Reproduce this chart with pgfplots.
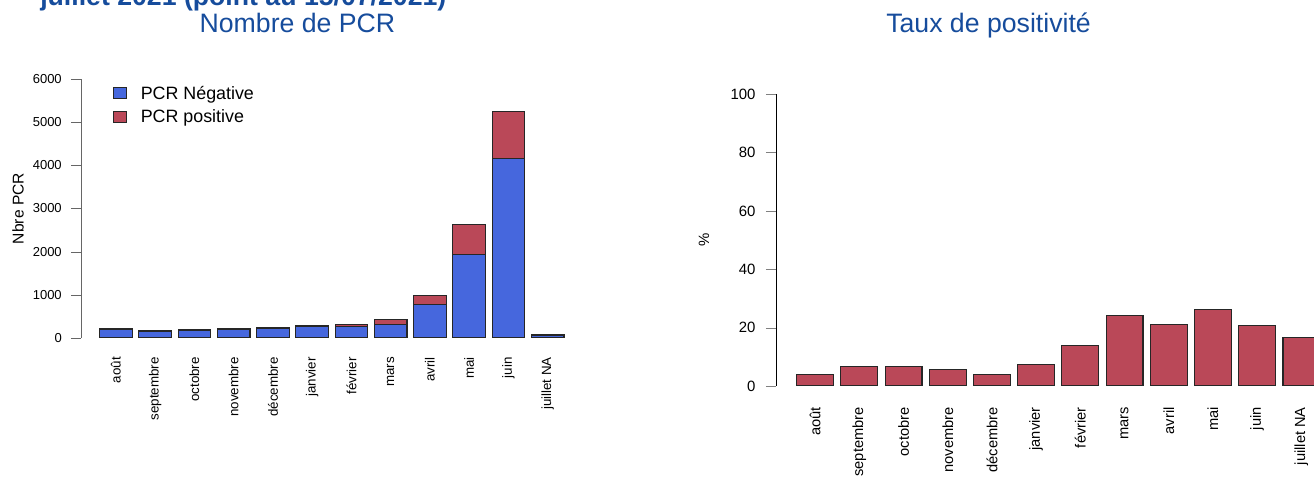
\documentclass[border=0pt]{standalone}
\usepackage{pgfplots}
\pgfplotsset{compat=1.18}
\usepackage{fontspec}
\setmainfont{Liberation Sans}

\definecolor{titleblue}{RGB}{22,76,156}
\definecolor{negblue}{RGB}{70,103,221}
\definecolor{posred}{RGB}{186,72,88}

\pgfplotsset{
  rbars/.style={
    scale only axis,
    anchor=south west,
    xmin=-0.89, xmax=11.89,
    ymin=0,
    axis lines*=left,
    x axis line style={draw=none},
    xtick={0,...,11},
    xticklabels={août,septembre,octobre,novembre,décembre,janvier,février,mars,avril,mai,juin,juillet NA},
    x tick style={draw=none},
    tick align=outside,
    major tick length=7.5pt,
    xticklabel style={rotate=90, anchor=east, inner sep=0pt},
    yticklabel style={anchor=east, inner sep=0pt},
    /pgf/number format/assume math mode=true,
    /pgf/number format/1000 sep={},
    scaled y ticks=false,
    ybar stacked,
    bar width=0.8333,
    legend image code/.code={\draw[#1] (0pt,-4.1pt) rectangle (9.75pt,4.1pt);},
  },
}

\begin{document}
\begin{tikzpicture}
\useasboundingbox (0,0) rectangle (985.5pt,357.75pt);

\node[anchor=base west, inner sep=0pt, text=titleblue, font=\fontsize{20}{24}\selectfont\bfseries]
  at (30pt,353.5pt) {juillet 2021 (point au 15/07/2021)};
\node[anchor=base, inner sep=0pt, text=titleblue, font=\fontsize{20}{24}\selectfont]
  at (223.1pt,333pt) {Nombre de PCR};
\node[anchor=base, inner sep=0pt, text=titleblue, font=\fontsize{20}{24}\selectfont]
  at (741.4pt,333pt) {Taux de positivité};

% Nombre de PCR
\begin{axis}[
  rbars,
  at={(60.75pt,104.25pt)},
  width=376.2pt, height=194.25pt,
  ymax=6000,
  ytick={0,1000,...,6000},
  y axis line style={black!60},
  y tick style={black!60},
  xticklabel shift=6.75pt,
  yticklabel shift=6.75pt,
  xticklabel style={font=\fontsize{10}{12}\selectfont},
  yticklabel style={font=\fontsize{9.75}{12}\selectfont},
  ylabel={Nbre PCR},
  ylabel style={at={([xshift=-47.25pt]axis description cs:0,0.5)}, anchor=center, font=\fontsize{11.7}{14}\selectfont},
  legend style={at={(axis description cs:0.056,0.99)}, anchor=north west, draw=none, fill=none,
    font=\fontsize{13.4}{16}\selectfont, row sep=4.5pt, column sep=9pt,
    nodes={inner sep=1pt}},
  legend cell align=left,
]
\addplot[fill=negblue, draw=black!85, line width=0.8pt] coordinates {
  (0,201) (1,152) (2,174) (3,197) (4,224) (5,259)
  (6,260) (7,318) (8,783) (9,1934) (10,4168) (11,64)
};
\addplot[fill=posred, draw=black!85, line width=0.8pt] coordinates {
  (0,8) (1,11) (2,12) (3,12) (4,9) (5,20)
  (6,42) (7,101) (8,210) (9,686) (10,1088) (11,13)
};
\legend{PCR Négative, PCR positive}
\end{axis}

% Taux de positivité
\begin{axis}[
  rbars,
  at={(581.85pt,68.25pt)},
  width=423.7pt, height=218.8pt,
  ymax=100,
  ytick={0,20,...,100},
  xticklabel shift=8.25pt,
  yticklabel shift=7.5pt,
  xticklabel style={font=\fontsize{11}{13}\selectfont},
  yticklabel style={font=\fontsize{11.2}{13}\selectfont},
  ylabel={\%},
  ylabel style={at={([xshift=-53.8pt]axis description cs:0,0.5)}, anchor=center, font=\fontsize{11.2}{13}\selectfont},
]
\addplot[fill=posred, draw=black!85, line width=0.8pt] coordinates {
  (0,3.8) (1,6.6) (2,6.6) (3,5.7) (4,3.8) (5,7.3)
  (6,13.8) (7,24.1) (8,21.1) (9,26.2) (10,20.7) (11,16.6)
};
\end{axis}
\end{tikzpicture}
\end{document}
